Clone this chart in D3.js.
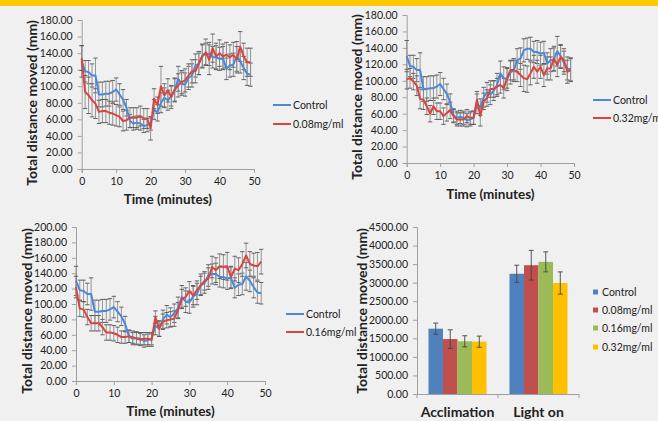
<!DOCTYPE html>
<html><head><meta charset="utf-8">
<script src="https://cdn.jsdelivr.net/npm/d3@7"></script>
<style>
html,body{margin:0;padding:0;background:#f0f0f0;}
svg{display:block;}
text{font-family:Lato,"Open Sans",sans-serif;fill:#222;}
</style></head><body>
<script>
// ---------- DATA ----------
const time = [0,1,2,3,4,5,6,7,8,9,10,11,12,13,14,15,16,17,18,19,20,21,22,23,24,25,26,27,28,29,30,31,32,33,34,35,36,37,38,39,40,41,42,43,44,45,46,47,48,49];
const control = [130,118,117,113,113,90,90,91,91,93,96,90,84,74,58,55,56,55,52,53,55,72,68,80,86,83,88,95,109,103,102,110,113,125,127,137,139,139,135,135,133,134,121,125,126,136,130,122,115,114];
const controlErr = [19,13,14,14,21,15,15,15,15,14,14,13,12,10,8,8,8,8,8,8,8,12,10,12,12,12,12,14,15,14,14,14,14,14,13,14,13,14,13,14,14,14,13,14,14,18,14,14,14,14];
const dose008 = [134,93,89,83,79,69,70,70,68,67,65,63,58,59,62,62,62,64,61,61,49,85,77,100,89,95,87,96,101,105,107,113,118,118,128,136,141,132,146,136,140,136,138,135,138,132,148,136,129,129];
const dose008Err = [15,20,22,20,18,14,14,14,14,14,13,12,12,12,12,12,12,12,12,12,14,12,10,24,14,14,14,14,14,14,14,14,14,14,14,14,16,18,17,16,16,15,15,15,15,16,18,16,17,17];
const dose032 = [102,103,99,94,78,77,69,60,69,63,63,57,61,64,57,53,53,53,57,55,55,77,57,75,79,90,90,93,95,91,103,113,113,111,107,103,102,109,117,111,117,107,115,115,127,119,129,125,111,113];
const dose032Err = [12,12,10,12,12,12,10,10,10,10,10,10,10,10,8,8,8,8,8,8,8,10,12,10,10,10,10,10,10,12,12,12,12,12,14,16,16,14,14,14,14,14,14,14,15,14,14,14,14,14];
const dose016 = [122,94,93,83,75,75,75,70,63,63,62,60,57,57,58,57,55,54,55,55,53,83,68,77,79,80,81,92,107,109,117,111,118,124,130,133,148,144,149,148,149,135,146,144,152,163,152,150,149,155];
const dose016Err = [14,10,10,10,10,10,10,10,10,10,10,10,8,8,8,8,8,8,8,8,8,8,10,10,10,10,10,10,12,12,12,12,12,12,12,14,14,16,16,16,18,14,16,16,16,16,16,16,18,16];
const xTicks = [0,10,20,30,40,50];

const barCategories = ["Acclimation","Light on"];
const barSeries = ["Control","0.08mg/ml","0.16mg/ml","0.32mg/ml"];
const barAcclimation = [1760,1480,1420,1410];
const barAcclimationErr = [150,250,150,150];
const barLightOn = [3240,3470,3560,2990];
const barLightOnErr = [230,400,270,300];

// ---------- STYLE ----------
const BLUE = "#4a89d8", RED = "#d9443f";
const barColors = ["#4f81bd","#c0504d","#9bbb59","#ffc000"];
const AXIS = "#a0a0a0", ERR = "#8a8a8a";

const svg = d3.select("body").append("svg").attr("width",658).attr("height",421);
svg.append("rect").attr("width",658).attr("height",421).attr("fill","#f0f0f0");
svg.append("rect").attr("width",658).attr("height",6).attr("fill","#ffc800");

function styleAxis(g){
  g.select(".domain").attr("stroke",AXIS);
  g.selectAll(".tick line").attr("stroke",AXIS);
  g.selectAll(".tick text").attr("fill","#333").style("font-family","Lato,sans-serif").style("font-size","10.5px");
}

function linePanel(o){
  const x = d3.scaleLinear().domain([0,50]).range([o.x0,o.x1]);
  const y = d3.scaleLinear().domain([0,o.ymax]).range([o.y0,o.y1]);
  const g = svg.append("g");
  const ya = g.append("g").attr("transform",`translate(${o.x0},0)`)
    .call(d3.axisLeft(y).tickValues(d3.range(0,o.ymax+1,20)).tickFormat(d3.format(".2f")).tickSize(4).tickPadding(5));
  styleAxis(ya);
  const xa = g.append("g").attr("transform",`translate(0,${o.y0})`)
    .call(d3.axisBottom(x).tickValues(xTicks).tickSize(4).tickPadding(5));
  styleAxis(xa);
  function series(vals, errs, color){
    const eb = g.append("g");
    time.forEach((t,i)=>{
      const cx = x(t), top = y(vals[i]+errs[i]), bot = y(vals[i]-errs[i]);
      eb.append("line").attr("x1",cx).attr("x2",cx).attr("y1",top).attr("y2",bot).attr("stroke",ERR).attr("stroke-width",0.9);
      eb.append("line").attr("x1",cx-2.2).attr("x2",cx+2.2).attr("y1",top).attr("y2",top).attr("stroke","#555").attr("stroke-width",0.9);
      eb.append("line").attr("x1",cx-2.2).attr("x2",cx+2.2).attr("y1",bot).attr("y2",bot).attr("stroke","#555").attr("stroke-width",0.9);
    });
    return ()=>g.append("path").datum(vals).attr("fill","none").attr("stroke",color).attr("stroke-width",2)
      .attr("stroke-linejoin","round")
      .attr("d",d3.line().x((d,i)=>x(time[i])).y(d=>y(d)));
  }
  const d1 = series(control, controlErr, BLUE);
  const d2 = series(o.vals, o.errs, RED);
  d1(); d2();
  g.append("text").attr("x",(o.x0+o.x1)/2).attr("y",o.ty).attr("text-anchor","middle")
    .style("font-weight","bold").style("font-size","13.5px").text("Time (minutes)");
  g.append("text").attr("transform",`translate(${o.yx},${o.yc}) rotate(-90)`).attr("text-anchor","middle")
    .attr("dy","0.35em").style("font-weight","bold").style("font-size","14px").text("Total distance moved (mm)");
  [["Control",BLUE,o.ly1],[o.name,RED,o.ly2]].forEach(([n,c,ly])=>{
    g.append("line").attr("x1",o.lx).attr("x2",o.lx+18).attr("y1",ly).attr("y2",ly).attr("stroke",c).attr("stroke-width",2);
    g.append("text").attr("x",o.lx+20).attr("y",ly).attr("dy","0.35em").style("font-size","10.5px").text(n);
  });
}

linePanel({x0:81.7,x1:254,y0:169,y1:20,ymax:180,vals:dose008,errs:dose008Err,name:"0.08mg/ml",ty:204,yx:32,yc:103,lx:273,ly1:105,ly2:124});
linePanel({x0:406.7,x1:574,y0:163,y1:15,ymax:180,vals:dose032,errs:dose032Err,name:"0.32mg/ml",ty:199,yx:357,yc:97,lx:593,ly1:100,ly2:118});
linePanel({x0:76,x1:265,y0:381,y1:227,ymax:200,vals:dose016,errs:dose016Err,name:"0.16mg/ml",ty:416,yx:27,yc:311,lx:286,ly1:314,ly2:332});

// ---------- BAR PANEL ----------
(function(){
  const x0 = d3.scaleBand().domain(barCategories).range([417,579]);
  const x1 = d3.scaleBand().domain(barSeries).range([0,x0.bandwidth()]).paddingInner(0).paddingOuter(0.79);
  const y = d3.scaleLinear().domain([0,4500]).range([394,227]);
  const g = svg.append("g");
  const ya = g.append("g").attr("transform","translate(417,0)")
    .call(d3.axisLeft(y).tickValues(d3.range(0,4501,500)).tickFormat(d3.format(".2f")).tickSize(4).tickPadding(5));
  styleAxis(ya);
  const data = [barAcclimation, barLightOn];
  const errs = [barAcclimationErr, barLightOnErr];
  barCategories.forEach((c,ci)=>{
    barSeries.forEach((s,si)=>{
      const v = data[ci][si], e = errs[ci][si];
      const bx = x0(c)+x1(s);
      g.append("rect").attr("x",bx).attr("y",y(v)).attr("width",x1.bandwidth()).attr("height",y(0)-y(v)).attr("fill",barColors[si]);
      const cx = bx + x1.bandwidth()/2;
      g.append("line").attr("x1",cx).attr("x2",cx).attr("y1",y(v+e)).attr("y2",y(v-e)).attr("stroke","#444").attr("stroke-width",0.9);
      [v+e,v-e].forEach(w=>g.append("line").attr("x1",cx-2.5).attr("x2",cx+2.5).attr("y1",y(w)).attr("y2",y(w)).attr("stroke","#444").attr("stroke-width",0.9));
    });
  });
  const xa = g.append("g").attr("transform","translate(0,394)")
    .call(d3.axisBottom(x0).tickSize(0).tickPadding(13));
  styleAxis(xa);
  xa.selectAll(".tick text").attr("fill","#222").style("font-weight","bold").style("font-size","14px");
  [417,498,579].forEach(tx=>xa.append("line").attr("x1",tx).attr("x2",tx).attr("y1",0).attr("y2",4).attr("stroke",AXIS));
  g.append("text").attr("transform","translate(362,311) rotate(-90)").attr("text-anchor","middle").attr("dy","0.35em")
    .style("font-weight","bold").style("font-size","14px").text("Total distance moved (mm)");
  barSeries.forEach((s,i)=>{
    const ly = [292,310,328,347][i];
    g.append("rect").attr("x",593).attr("y",ly-2.5).attr("width",5).attr("height",5).attr("fill",barColors[i]);
    g.append("text").attr("x",602).attr("y",ly).attr("dy","0.35em").style("font-size","10.5px").text(s);
  });
})();
</script>
</body></html>
